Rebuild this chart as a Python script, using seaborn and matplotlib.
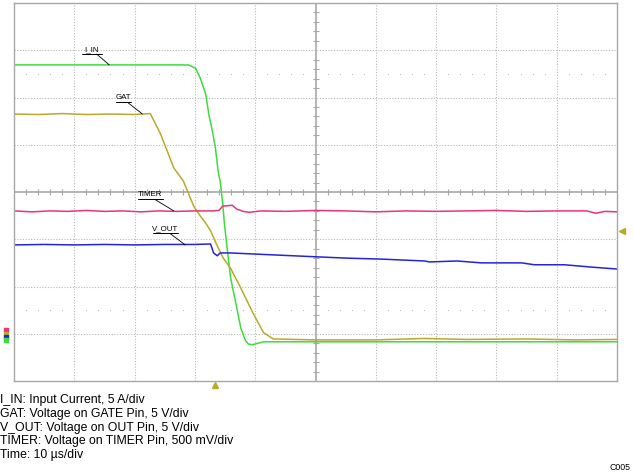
import numpy as np
import pandas as pd
import seaborn as sns
import matplotlib.pyplot as plt

# time in us (10 us/div), amplitude in screen divisions
iin_t = [-50, -21.1, -19.9, -19.1, -18.2, -17.7, -17.1, -16.6, -16.1, -15.8, -15.4, -15.1,
         -14.6, -14.1, -13.3, -12.4, -11.6, -11.1, -10.4, -8.6, 50]
iin_y = [2.69, 2.69, 2.62, 2.41, 2.07, 1.65, 1.29, 0.93, 0.40, 0.23, -0.23, -0.68,
         -1.25, -1.80, -2.30, -2.87, -3.15, -3.22, -3.23, -3.17, -3.17]

gat_t = [-50, -46, -42, -38, -34, -30, -27.4, -25.7, -23.5, -21.9, -20.2, -19.1, -18.2,
         -17.4, -16.3, -15.3, -14.1, -12.4, -10.3, -8.6, -7.0, 0, 10, 18, 25, 35, 43, 50]
gat_y = [1.65, 1.64, 1.66, 1.64, 1.65, 1.64, 1.66, 1.23, 0.51, 0.23, -0.30, -0.51, -0.66,
         -0.82, -1.14, -1.40, -1.61, -2.03, -2.58, -2.98, -3.11, -3.13, -3.13, -3.10, -3.12,
         -3.11, -3.13, -3.12]

tmr_t = [-50, -47, -44, -41, -38, -35, -32, -29, -26, -23, -20, -17, -16, -15.4, -13.8,
         -13.1, -12, -11, -9, -5, 0, 5, 10, 15, 20, 25, 30, 35, 40, 45, 46.5, 48, 50]
tmr_y = [-0.40, -0.42, -0.40, -0.41, -0.39, -0.41, -0.40, -0.42, -0.40, -0.41, -0.40,
         -0.40, -0.39, -0.30, -0.28, -0.36, -0.41, -0.43, -0.40, -0.41, -0.39, -0.40,
         -0.42, -0.40, -0.41, -0.40, -0.39, -0.41, -0.40, -0.40, -0.45, -0.41, -0.42]

vout_t = [-50, -45, -40, -35, -30, -25, -20, -17.4, -16.9, -16.3, -15.8, -14.1, -0.2,
          5.3, 10.9, 18.1, 18.9, 23.5, 27.5, 34.2, 36.3, 41.3, 45.8, 50]
vout_y = [-1.12, -1.11, -1.12, -1.11, -1.12, -1.11, -1.11, -1.10, -1.29, -1.35, -1.29,
          -1.29, -1.37, -1.40, -1.42, -1.46, -1.48, -1.46, -1.50, -1.50, -1.54, -1.54,
          -1.59, -1.63]

traces = [("I_IN", iin_t, iin_y, "#3fdc3f"),
          ("GAT", gat_t, gat_y, "#b9aa2c"),
          ("TIMER", tmr_t, tmr_y, "#e8347f"),
          ("V_OUT", vout_t, vout_y, "#2424d8")]

# label text position (t, y) and where the leader hits the trace
labels = {"I_IN": ((-37.1, 3.02), (-34.2, 2.69)),
          "GAT": ((-31.9, 1.99), (-28.7, 1.65)),
          "TIMER": ((-27.4, -0.06), (-23.5, -0.40)),
          "V_OUT": ((-24.9, -0.78), (-21.6, -1.12))}

notes = ["I_IN: Input Current, 5 A/div",
         "GAT: Voltage on GATE Pin, 5 V/div",
         "V_OUT: Voltage on OUT Pin, 5 V/div",
         "TIMER: Voltage on TIMER Pin, 500 mV/div",
         "Time: 10 \u00b5s/div"]

sns.set_theme(style="white")
plt.rcParams['font.family'] = ['Liberation Sans', 'DejaVu Sans']

W, H = 634, 472
fig = plt.figure(figsize=(W / 100, H / 100), dpi=100)
ax = fig.add_axes([14 / W, (H - 381) / H, 603 / W, 378 / H])
ax.set_xlim(-50, 50)
ax.set_ylim(-4, 4)
ax.set_xticks([])
ax.set_yticks([])
for s in ax.spines.values():
    s.set_color("#a8a8a8")
    s.set_linewidth(1.0)

# graticule
grid_c = "#b8b8b8"
for gx in range(-40, 50, 10):
    if gx != 0:
        ax.axvline(gx, color=grid_c, lw=0.8, ls=(0, (1, 1.5)), zorder=0)
for gy in range(-3, 4):
    if gy != 0:
        ax.axhline(gy, color=grid_c, lw=0.8, ls=(0, (1, 1.5)), zorder=0)
ax.axhline(0, color="#a8a8a8", lw=1.2, zorder=0)
ax.axvline(0, color="#a8a8a8", lw=1.2, zorder=0)
minor_x = [v for v in np.arange(-48, 50, 2) if v % 10 != 0]
minor_y = [v for v in np.arange(-3.8, 4, 0.2) if abs(v - round(v)) > 0.01]
ax.plot(minor_x, [0] * len(minor_x), ls="none", marker="|", ms=4, mew=0.8, color="#a8a8a8", zorder=0)
ax.plot([0] * len(minor_y), minor_y, ls="none", marker="_", ms=4, mew=0.8, color="#a8a8a8", zorder=0)
for yy in (2.5, -2.5):
    ax.plot(minor_x, [yy] * len(minor_x), ls="none", marker="s", ms=0.6, mew=0,
            color="#b4b4b4", zorder=0)

# traces
for name, t, y, c in traces:
    df = pd.DataFrame({"t": t, "y": y})
    sns.lineplot(data=df, x="t", y="y", color=c, lw=1.1, ax=ax, sort=False, estimator=None)
ax.set_xlabel("")
ax.set_ylabel("")

# trace labels with leader lines
for name, ((tx, ty), (lx, ly)) in labels.items():
    ax.text(tx, ty, name, fontsize=5.7, ha="center", va="center", color="black")
    half = len(name) * 0.42
    ax.plot([tx - half, tx + half], [ty - 0.09, ty - 0.09], color="black", lw=0.7)
    ax.plot([tx + 0.8, lx], [ty - 0.1, ly], color="black", lw=0.6)

# markers: trigger position and level, channel grounds
ax.plot([-16.6], [-4.08], marker="^", ms=5, color="#b9aa2c", clip_on=False, ls="none")
ax.plot([50.8], [-0.82], marker="<", ms=5, color="#b9aa2c", clip_on=False, ls="none")
gnd = [(-2.92, "#e8347f"), (-3.0, "#b9aa2c"), (-3.07, "#2424d8"), (-3.14, "#3fdc3f")]
for gy, gc in gnd:
    ax.plot([-51.3], [gy], marker="s", ms=3.5, color=gc, clip_on=False, ls="none")

# description under the screen
for i, line in enumerate(notes):
    y_px = [400, 413.5, 427.5, 441, 455][i]
    fig.text(0.5 / W, 1 - y_px / H, line, fontsize=8.8, ha="left", va="center", color="black")
fig.text(631 / W, 1 - 467 / H, "C005", fontsize=6.3, ha="right", va="center", color="black")

fig.savefig("out.png", dpi=100)
